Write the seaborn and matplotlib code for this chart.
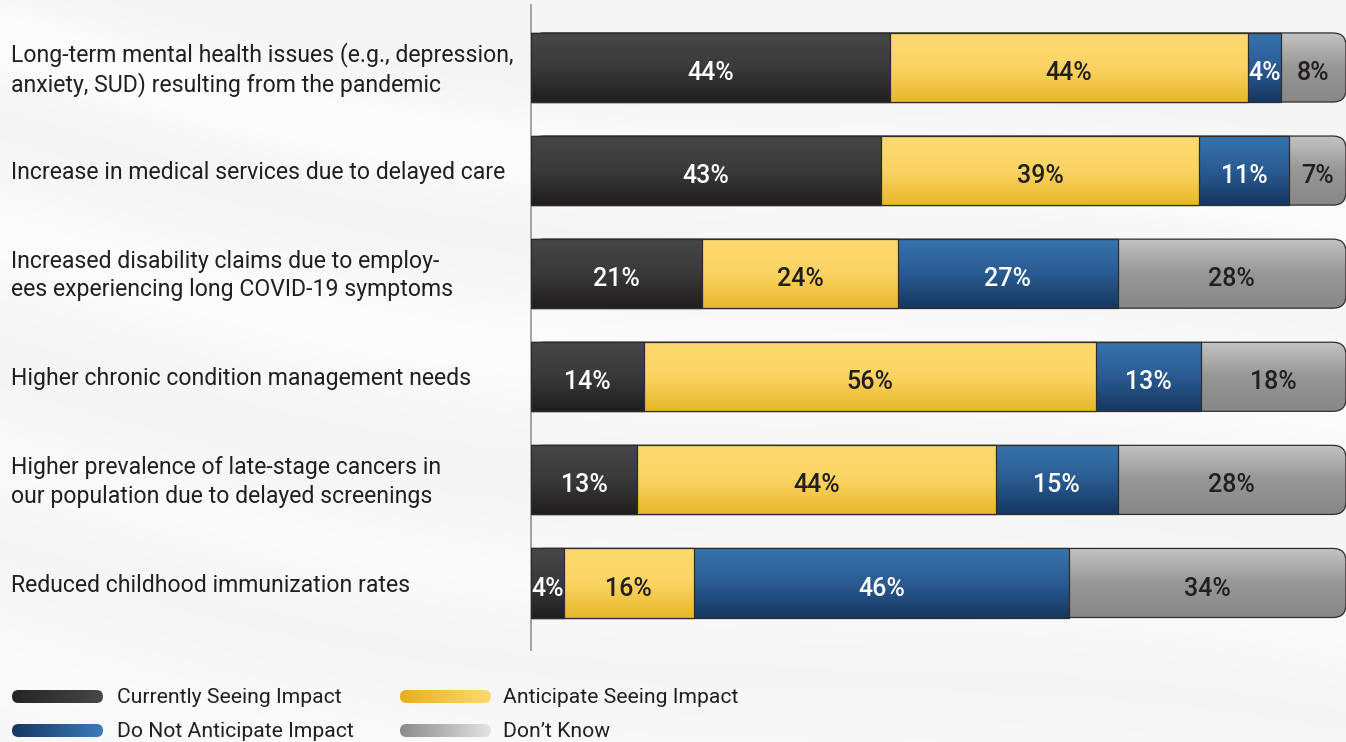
import numpy as np
import pandas as pd
import matplotlib
matplotlib.use("Agg")
import matplotlib.pyplot as plt
import seaborn as sns
from matplotlib.patches import FancyBboxPatch
from matplotlib.transforms import blended_transform_factory
from matplotlib.colors import LinearSegmentedColormap

# ---- data -------------------------------------------------------------
issues = [
    "Long-term mental health issues (e.g., depression,\nanxiety, SUD) resulting from the pandemic",
    "Increase in medical services due to delayed care",
    "Increased disability claims due to employ-\nees experiencing long COVID-19 symptoms",
    "Higher chronic condition management needs",
    "Higher prevalence of late-stage cancers in\nour population due to delayed screenings",
    "Reduced childhood immunization rates",
]
series = ["Currently Seeing Impact", "Anticipate Seeing Impact",
          "Do Not Anticipate Impact", "Don\u2019t Know"]
currently = [44, 43, 21, 14, 13, 4]
anticipate = [44, 39, 24, 56, 44, 16]
not_anticipate = [4, 11, 27, 13, 15, 46]
dont_know = [8, 7, 28, 18, 28, 34]

# ---- styling ----------------------------------------------------------
sns.set_theme(style="white")
plt.rcParams["font.family"] = ["Roboto", "DejaVu Sans"]
TXT = "#231f20"
BG = "#f6f6f6"

bar_grad = {  # vertical gradients, top -> bottom
    series[0]: ["#474747", "#3a3a3a", "#211e1f"],
    series[1]: ["#fdda70", "#fbd463", "#e7b82a"],
    series[2]: ["#3774ad", "#2a5b92", "#163861"],
    series[3]: ["#c4c4c4", "#979797", "#888888"],
}
legend_grad = {  # horizontal gradients, left -> right
    series[0]: ["#262424", "#474747"],
    series[1]: ["#e9ae1f", "#ffd96f"],
    series[2]: ["#163861", "#3b7cbd"],
    series[3]: ["#8b8b8b", "#e3e3e3"],
}
label_color = {series[0]: "white", series[1]: TXT, series[2]: "white", series[3]: TXT}

# ---- long-form table of stacked extents -------------------------------
shares = np.array([currently, anticipate, not_anticipate, dont_know], dtype=float).T
scaled = shares / shares.sum(axis=1, keepdims=True) * 100
ends = scaled.cumsum(axis=1)
rows = []
for i, issue in enumerate(issues):
    for j, s in enumerate(series):
        rows.append(dict(issue=issue, series=s, value=int(shares[i, j]),
                         start=ends[i, j] - scaled[i, j], end=ends[i, j]))
df = pd.DataFrame(rows)

W, H = 1346, 742
fig = plt.figure(figsize=(W / 100, H / 100), dpi=100, facecolor=BG)

# soft streaked backdrop
bg = fig.add_axes([0, 0, 1, 1], zorder=-10)
gx, gy = np.meshgrid(np.linspace(0, 1, 400), np.linspace(0, 1, 220))
field = np.full_like(gx, 0.958)
for c, w, a in [(0.05, 0.06, 0.03), (0.32, 0.09, 0.025), (0.62, 0.07, 0.02), (0.9, 0.1, 0.02)]:
    centre = c + 0.28 * gx + 0.05 * np.sin(gx * 5)
    field += a * np.exp(-((gy - centre) / w) ** 2)
bg.imshow(np.clip(field, 0, 1), cmap="gray", vmin=0, vmax=1, extent=(0, 1, 0, 1),
          aspect="auto", origin="upper", interpolation="bicubic")
bg.axis("off")

ax = fig.add_axes([531 / W, 1 - 650 / H, 815 / W, 645 / H])
ax.patch.set_alpha(0)

# cumulative bars: longest first so shorter ones sit on top
order = series[::-1]
sns.barplot(data=df, x="end", y="issue", hue="series", hue_order=order, order=issues,
            dodge=False, width=0.67, orient="h", saturation=1, legend=False,
            palette={s: bar_grad[s][1] for s in series}, ax=ax)

x_px = 815 / 100.0
y_px = 645 / 6.256
radius = 13
for level, container in zip(order, ax.containers):
    z = 2 + 2 * order.index(level)
    cmap = LinearSegmentedColormap.from_list(level, bar_grad[level])
    for rect in container.patches:
        x0, y0 = rect.get_x(), rect.get_y()
        w, h = rect.get_width(), rect.get_height()
        if level == series[3]:
            rect.remove()
            shape = FancyBboxPatch((x0, y0), w, h,
                                   boxstyle=f"round,pad=0,rounding_size={radius / x_px}",
                                   mutation_aspect=(1 / y_px) / (1 / x_px))
            ax.add_patch(shape)
        else:
            shape = rect
        shape.set_facecolor("none")
        shape.set_edgecolor("#2f2c2c")
        shape.set_linewidth(0.9)
        shape.set_zorder(z + 1)
        grad = np.linspace(0, 1, 64).reshape(-1, 1)
        img = ax.imshow(grad, cmap=cmap, extent=(x0, x0 + w, y0 + h, y0), origin="upper",
                        aspect="auto", zorder=z, interpolation="bicubic")
        img.set_clip_path(shape)

# value labels centred in their segment
for _, r in df.iterrows():
    yi = issues.index(r["issue"])
    ax.text((r["start"] + r["end"]) / 2, yi + 0.03, f"{r['value']}%", ha="center",
            va="center_baseline", fontsize=18, fontweight="medium",
            color=label_color[r["series"]], zorder=20)

ax.set_xlim(0, 100)
ax.set_ylim(5.65, -0.606)
ax.set_xlabel("")
ax.set_ylabel("")
ax.set_xticks([])
ax.set_yticks([])
for side in ["top", "right", "bottom"]:
    ax.spines[side].set_visible(False)
ax.spines["left"].set_color("#9c9c9c")
ax.spines["left"].set_linewidth(1.3)

# category labels, left aligned at the figure margin
tr = blended_transform_factory(fig.transFigure, ax.transData)
for i, issue in enumerate(issues):
    ax.text(11 / W, i + 0.02, issue, transform=tr, ha="left", va="center",
            fontsize=16.6, color=TXT, linespacing=1.3, clip_on=False)

# legend with gradient pills
lg = fig.add_axes([0, 0, 1, 1], zorder=5)
lg.set_xlim(0, W)
lg.set_ylim(H, 0)
lg.axis("off")
lg.patch.set_alpha(0)
slots = [(12, 696.5, 117), (400, 696.5, 503), (12, 730.5, 117), (400, 730.5, 503)]
for s, (px, py, tx) in zip([series[0], series[1], series[2], series[3]], slots):
    pill = FancyBboxPatch((px, py - 6.5), 91, 13, boxstyle="round,pad=0,rounding_size=6.5",
                          facecolor="none", edgecolor="none")
    lg.add_patch(pill)
    g = np.linspace(0, 1, 64).reshape(1, -1)
    im = lg.imshow(g, cmap=LinearSegmentedColormap.from_list(s + "_lg", legend_grad[s]),
                   extent=(px, px + 91, py + 6.5, py - 6.5), aspect="auto", origin="upper")
    im.set_clip_path(pill)
    lg.text(tx, py + 1, s, ha="left", va="center", fontsize=15.2, color=TXT)
lg.set_xlim(0, W)
lg.set_ylim(H, 0)

fig.savefig("out.png", dpi=100, facecolor=BG)
